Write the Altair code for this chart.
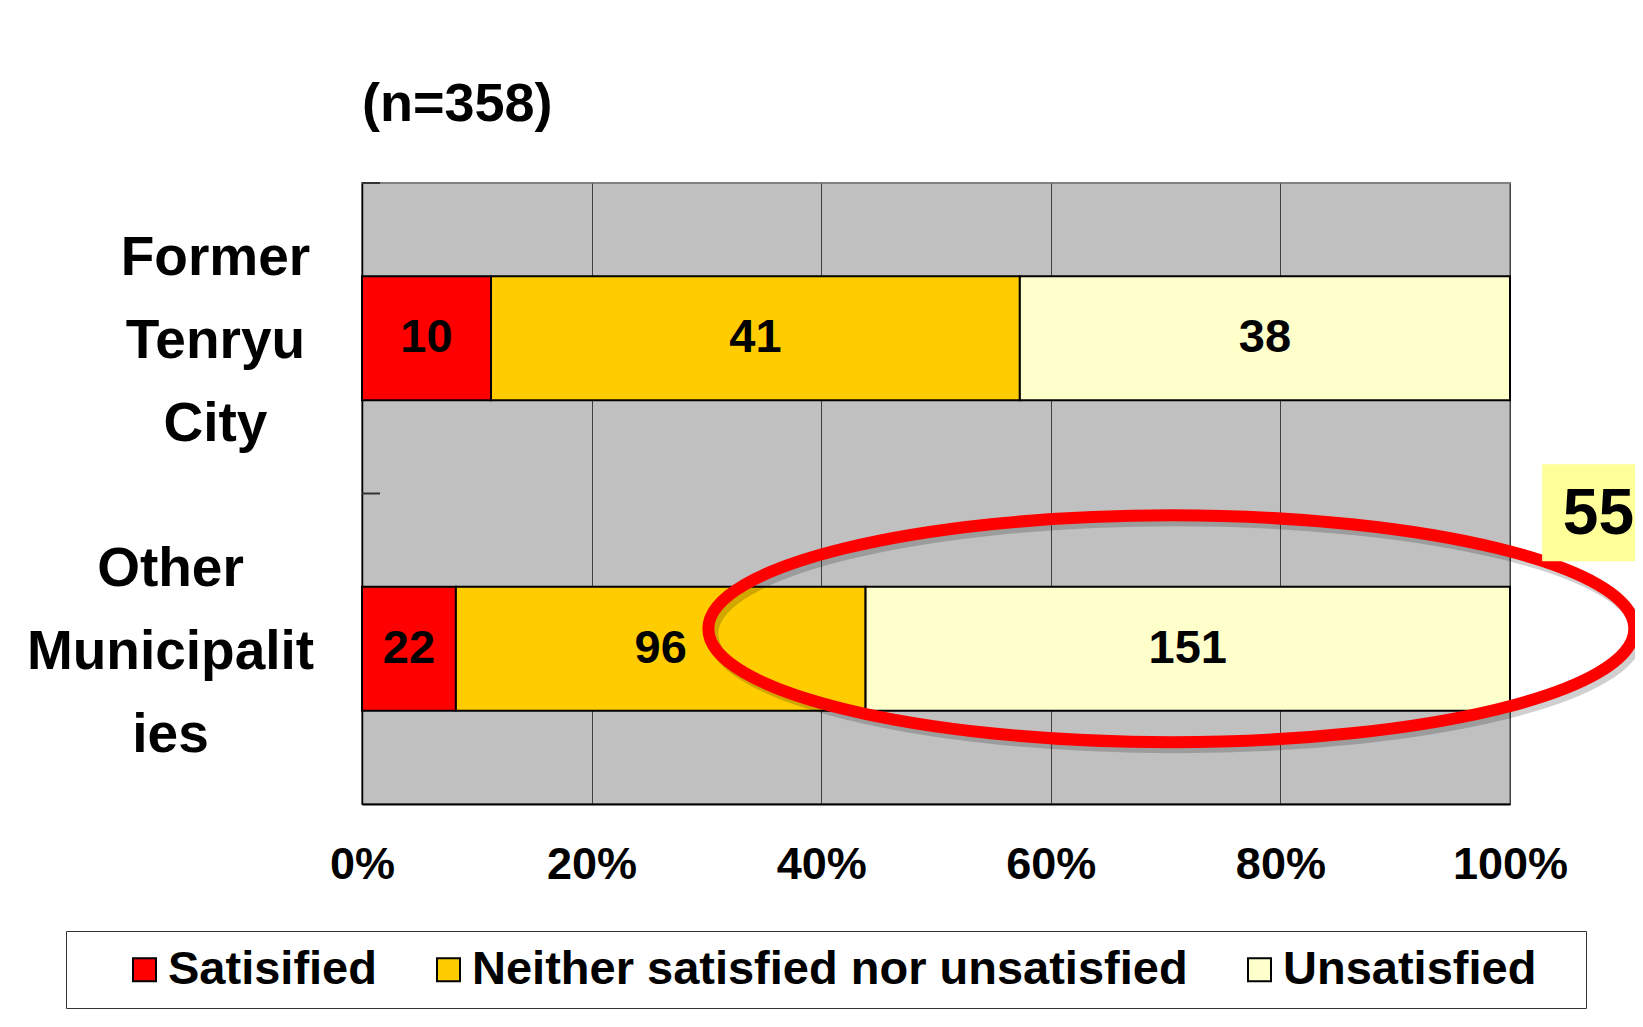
import altair as alt
import pandas as pd

# ---- data ----
categories = ["Former Tenryu City", "Other Municipalities"]
category_lines = [["Former", "Tenryu", "City"], ["Other", "Municipalit", "ies"]]
responses = ["Satisified", "Neither satisfied nor unsatisfied", "Unsatisfied"]
colors = ["#FF0000", "#FFCC00", "#FFFFCC"]
satisfied = [10, 22]
neither = [41, 96]
unsatisfied = [38, 151]
x_ticks = [0, 0.2, 0.4, 0.6, 0.8, 1.0]
title_text = "(n=358)"
callout_text = "55%"
callout_category = "Other Municipalities"
ellipse_center = [0.705]      # share position of the highlight ellipse centre
callout_box = [1.028, 1.25]   # share positions of the callout box edges
callout_text_pos = [1.046]
cat_tick_len = [0.0, 0.0157]  # inward category-boundary ticks (share units)

SANS = "Liberation Sans"

rows = []
for i, c in enumerate(categories):
    for j, (r, vals) in enumerate(zip(responses, [satisfied, neither, unsatisfied])):
        rows.append({"category": c, "response": r, "count": vals[i], "ord": j})
df = pd.DataFrame(rows)

ann = pd.DataFrame({
    "category": [callout_category],
    "cx": ellipse_center,
    "bx": [callout_box[0]],
    "bx2": [callout_box[1]],
    "tx": callout_text_pos,
    "label": [callout_text],
})

ticks_df = pd.DataFrame({
    "category": categories,
    "t0": [cat_tick_len[0]] * len(categories),
    "t1": [cat_tick_len[1]] * len(categories),
})

label_expr = (
    f"datum.value == '{categories[0]}' ? {category_lines[0]} : {category_lines[1]}"
)

xscale = alt.Scale(domain=[0, 1])
yscale = alt.Scale(paddingInner=0, paddingOuter=0)

y_axis = alt.Axis(
    title=None, ticks=False, grid=False,
    domainColor="#000000", domainWidth=1.5,
    labelExpr=label_expr,
    labelFont=SANS, labelFontWeight="bold", labelFontSize=55,
    labelColor="#000000", labelLineHeight=83,
    labelAlign="center", labelBaseline="middle", labelLimit=500,
    labelOffset=-80,
    labelPadding={"condition": {"test": f"datum.value == '{categories[0]}'", "value": 147}, "value": 192},
)
x_axis = alt.Axis(
    title=None, values=x_ticks, format="%", ticks=False,
    grid=True, gridColor="#404040", gridWidth=1,
    domainColor="#000000", domainWidth=2,
    labelFont=SANS, labelFontWeight="bold", labelFontSize=45,
    labelColor="#000000", labelPadding=38, labelFlush=False,
)

# a blank braille cell (not trimmed as whitespace) widens the last legend entry
legend_label_expr = "datum.label == 'Unsatisfied' ? datum.label + '\u2800' : datum.label"

bars = alt.Chart(df).mark_bar(size=124, stroke="#000000", strokeWidth=2).encode(
    x=alt.X("count:Q", stack="normalize", scale=xscale, axis=x_axis),
    y=alt.Y("category:N", sort=categories, scale=yscale, axis=y_axis),
    color=alt.Color(
        "response:N",
        scale=alt.Scale(domain=responses, range=colors),
        legend=alt.Legend(
            orient="none", legendX=-296, legendY=748,
            direction="horizontal", columns=3,
            title=" ", titleOrient="left", titleFontSize=1, titlePadding=40,
            symbolType="square", symbolSize=529,
            symbolStrokeColor="#000000", symbolStrokeWidth=2,
            labelFont=SANS, labelFontWeight="bold", labelFontSize=47,
            labelColor="#000000", labelOffset=0, columnPadding=48,
            labelExpr=legend_label_expr,
            padding=15, strokeColor="#333333", fillColor="#FFFFFF",
            labelLimit=1000,
        ),
    ),
    order=alt.Order("ord:Q"),
)

cat_ticks = alt.Chart(ticks_df).mark_rule(color="#333333", strokeWidth=2).encode(
    x=alt.X("t0:Q", scale=xscale, title=None),
    x2="t1:Q",
    y=alt.Y("category:N", sort=categories, bandPosition=0, title=None),
)

labels = alt.Chart(df).transform_joinaggregate(
    total="sum(count)", groupby=["category"]
).transform_window(
    cum="sum(count)", sort=[alt.SortField("ord")], groupby=["category"], frame=[None, 0]
).transform_calculate(
    mid="(datum.cum - datum.count / 2) / datum.total"
).mark_text(
    font=SANS, fontWeight="bold", fontSize=47, color="#000000", baseline="middle"
).encode(
    x=alt.X("mid:Q", scale=xscale, title=None),
    y=alt.Y("category:N", sort=categories, title=None),
    text="count:Q",
)

ellipse_path = ("M -1 0 C -1 -0.1353 -0.5523 -0.245 0 -0.245 "
                "C 0.5523 -0.245 1 -0.1353 1 0 "
                "C 1 0.1353 0.5523 0.245 0 0.245 "
                "C -0.5523 0.245 -1 0.1353 -1 0 Z")

shadow = alt.Chart(ann).mark_point(
    shape=ellipse_path, size=857476, filled=False, stroke="#000000",
    strokeWidth=12, opacity=0.18, xOffset=4, yOffset=-15,
).encode(
    x=alt.X("cx:Q", scale=xscale, title=None),
    y=alt.Y("category:N", sort=categories, title=None),
)

ellipse = alt.Chart(ann).mark_point(
    shape=ellipse_path, size=857476, filled=False, stroke="#FF0000",
    strokeWidth=12, opacity=1, yOffset=-20,
).encode(
    x=alt.X("cx:Q", scale=xscale, title=None),
    y=alt.Y("category:N", sort=categories, title=None),
)

box = alt.Chart(ann).mark_bar(size=97, color="#FFFF99", yOffset=-136).encode(
    x=alt.X("bx:Q", scale=xscale, title=None),
    x2="bx2:Q",
    y=alt.Y("category:N", sort=categories, title=None),
)

box_text = alt.Chart(ann).mark_text(
    font=SANS, fontWeight="bold", fontSize=64, color="#000000",
    align="left", baseline="middle", yOffset=-134,
).encode(
    x=alt.X("tx:Q", scale=xscale, title=None),
    y=alt.Y("category:N", sort=categories, title=None),
    text="label:N",
)

chart = alt.layer(bars, cat_ticks, labels, shadow, ellipse, box, box_text).properties(
    width=1148, height=621,
    padding={"left": 354, "top": 175, "right": 125, "bottom": 215},
    autosize=alt.AutoSizeParams(type="none"),
    background="#FFFFFF",
    title=alt.TitleParams(
        text=title_text, anchor="start", frame="group",
        font=SANS, fontSize=54, fontWeight="bold", color="#000000", offset=50,
    ),
).configure_view(
    fill="#C0C0C0", stroke="#808080", strokeWidth=2
)

chart.save("out.html", embed_options={"renderer": "svg", "actions": False})
